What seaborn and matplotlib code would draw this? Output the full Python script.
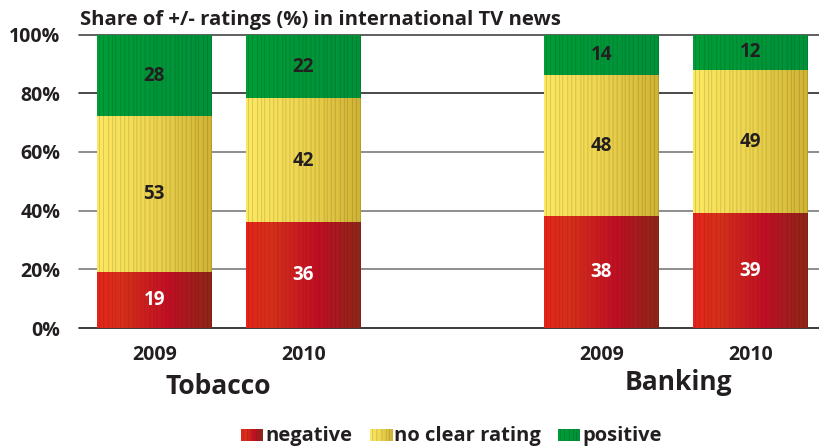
import numpy as np
import pandas as pd
import matplotlib
matplotlib.use("Agg")
import matplotlib.pyplot as plt
import seaborn as sns
from matplotlib.colors import LinearSegmentedColormap

# ---- data -------------------------------------------------------------
topics = ["Tobacco", "Tobacco", "Banking", "Banking"]
years = ["2009", "2010", "2009", "2010"]
negative = [19, 36, 38, 39]
no_clear = [53, 42, 48, 49]
positive = [28, 22, 14, 12]
series_names = ["negative", "no clear rating", "positive"]
y_ticks = [0, 20, 40, 60, 80, 100]
title = "Share of +/- ratings (%) in international TV news"

# bar slots on the x axis, one empty slot between the two topics
slots = [0, 1, 3, 4]

# ---- styling ----------------------------------------------------------
sns.set_theme(style="white")
plt.rcParams["font.family"] = ["Open Sans", "DejaVu Sans"]
TXT = "#231f20"

RED = [(0.0, "#e4241b"), (0.22, "#d6301a"), (0.62, "#c10f24"), (1.0, "#8c2718")]
YEL = [(0.0, "#fde862"), (0.5, "#eed54f"), (1.0, "#d0b334")]
GRN = [(0.0, "#009d37"), (1.0, "#00913a")]
STRIPE = {"neg": 0.91, "mid": 0.87, "pos": 0.87}


def texture(stops, dark, n=114):
    """Horizontal gradient with thin darker vertical pin-stripes."""
    cmap = LinearSegmentedColormap.from_list("g", stops)
    rgb = cmap(np.linspace(0, 1, n))[:, :3]
    gaps = [4, 5, 4, 3, 5, 4, 4, 5, 3, 4]
    i, k = 2, 0
    while i < n:
        rgb[i] *= dark
        i += gaps[k % len(gaps)]
        k += 1
    return rgb[np.newaxis, :, :]


df = pd.DataFrame({
    "slot": slots, "topic": topics, "year": years,
    "negative": negative, "no_clear": no_clear, "positive": positive,
})
df["neg_top"] = df["negative"]
df["mid_top"] = df["negative"] + df["no_clear"]
df["pos_top"] = df["mid_top"] + df["positive"]

W, H = 820, 447
fig = plt.figure(figsize=(W / 100, H / 100), dpi=100)
ax = fig.add_axes([79 / W, (H - 328) / H, 1 - 79 / W, (328 - 34.5) / H])

# ---- gridlines ----------------------------------------------------------
grid_colors = ["#1a1a1a", "#7a7a7a", "#7a7a7a", "#7a7a7a", "#2a2a2a", "#444444"]
for yv, gc in zip(y_ticks, grid_colors):
    ax.axhline(yv, color=gc, lw=1.2, zorder=0, clip_on=False)

# ---- stacked bars (cumulative layers, drawn back to front) --------------
BAR_W = 0.77
layers = [
    ("pos_top", "mid_top", "positive", GRN, STRIPE["pos"], TXT),
    ("mid_top", "neg_top", "no_clear", YEL, STRIPE["mid"], TXT),
    ("neg_top", None, "negative", RED, STRIPE["neg"], "white"),
]
for z, (top_col, low_col, val_col, stops, dark, lab_color) in enumerate(layers):
    n_before = len(ax.patches)
    sns.barplot(data=df, x="slot", y=top_col, native_scale=True, width=BAR_W,
                color=stops[len(stops) // 2][1], errorbar=None, ax=ax,
                linewidth=0, zorder=2 + 2 * z)
    new_patches = ax.patches[n_before:]
    tex = texture(stops, dark)
    for patch in new_patches:
        x0, w, top = patch.get_x(), patch.get_width(), patch.get_height()
        slot = x0 + w / 2
        row = df.loc[(df["slot"] - slot).abs().idxmin()]
        low = 0 if low_col is None else row[low_col]
        ax.imshow(tex, extent=(x0, x0 + w, low, top), aspect="auto",
                  interpolation="bilinear", zorder=3 + 2 * z)
        ax.text(row["slot"], (low + top) / 2, f"{row[val_col]:g}",
                ha="center", va="center", fontsize=13.5, fontweight="bold",
                color=lab_color, zorder=20)

# ---- axes ---------------------------------------------------------------
ax.set_xlim(-0.505, 4.468)
ax.set_ylim(0, 100)
for s in ax.spines.values():
    s.set_visible(False)
ax.set_yticks(y_ticks)
ax.set_yticklabels([f"{v}%" for v in y_ticks], fontsize=14, fontweight="bold", color=TXT)
ax.set_xticks(slots)
ax.set_xticklabels(years, fontsize=14, fontweight="bold", color=TXT)
ax.tick_params(axis="y", length=0, pad=13.5)
ax.tick_params(axis="x", length=0, pad=12.5)
ax.set_xlabel("")
ax.set_ylabel("")

# topic names under each pair of bars (small hand offsets in x / pixel y)
topic_nudge = {"Tobacco": (-0.07, 386), "Banking": (0.02, 382)}
for topic in dict.fromkeys(topics):
    xc = df.loc[df["topic"] == topic, "slot"].mean()
    dx, ypix = topic_nudge[topic]
    ax.annotate(topic, xy=(xc + dx, H - ypix), xycoords=("data", "figure pixels"),
                ha="center", va="center", fontsize=19, fontweight="bold", color=TXT)

fig.text(80 / W, (H - 25) / H, title, ha="left", va="baseline",
         fontsize=14.6, fontweight="bold", color=TXT)

# ---- legend -------------------------------------------------------------
legend_items = [
    (series_names[0], RED, STRIPE["neg"], 241),
    (series_names[1], YEL, STRIPE["mid"], 370),
    (series_names[2], GRN, STRIPE["pos"], 558),
]
for name, stops, dark, px in legend_items:
    lax = fig.add_axes([px / W, (H - 441) / H, 22 / W, 12 / H])
    lax.imshow(texture(stops, dark, n=22), aspect="auto", interpolation="bilinear")
    lax.set_axis_off()
    fig.text((px + 24) / W, (H - 436) / H, name, ha="left", va="center",
             fontsize=14.5, fontweight="bold", color=TXT)

fig.savefig("out.png", dpi=100)
